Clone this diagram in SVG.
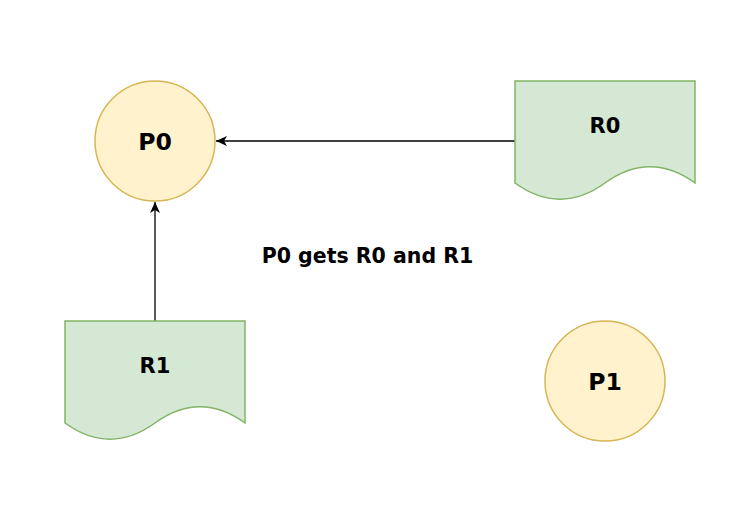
<svg xmlns="http://www.w3.org/2000/svg" width="754" height="510" viewBox="0 0 754 510">
<defs>
<style>
.proc{fill:#fff2cc;stroke:#d6b656;stroke-width:1.5}
.res{fill:#d5e8d4;stroke:#82b366;stroke-width:1.5}
.t{font-family:"DejaVu Sans",Verdana,sans-serif;font-weight:bold;fill:#000;text-anchor:middle}
.edge{stroke:#000;stroke-width:1.3;fill:none}
</style>
<marker id="arr" viewBox="0 0 11 10" refX="11" refY="5" markerWidth="11" markerHeight="10" markerUnits="userSpaceOnUse" orient="auto">
<path d="M0,0 L11,5 L0,10 L3,5 Z" fill="#000"/>
</marker>
</defs>
<rect width="754" height="510" fill="#fff"/>
<g id="edges">
<line class="edge" x1="515" y1="141" x2="216" y2="141" marker-end="url(#arr)"/>
<line class="edge" x1="155" y1="321" x2="155" y2="202" marker-end="url(#arr)"/>
</g>
<g id="P0">
<circle class="proc" cx="155" cy="141" r="60"/>
<text class="t" x="155" y="149.5" font-size="23.5">P0</text>
</g>
<g id="P1">
<circle class="proc" cx="605" cy="381" r="60"/>
<text class="t" x="605" y="389.5" font-size="23.5">P1</text>
</g>
<g id="R0">
<path class="res" d="M515,81 H695 V183 Q650,150.6 605,183 Q560,215.4 515,183 Z"/>
<text class="t" x="605" y="132.5" font-size="21">R0</text>
</g>
<g id="R1">
<path class="res" d="M65,321 H245 V423 Q200,390.6 155,423 Q110,455.4 65,423 Z"/>
<text class="t" x="155" y="372.5" font-size="21">R1</text>
</g>
<g id="label">
<text class="t" x="367.5" y="262.5" font-size="20.5">P0 gets R0 and R1</text>
</g>
</svg>
